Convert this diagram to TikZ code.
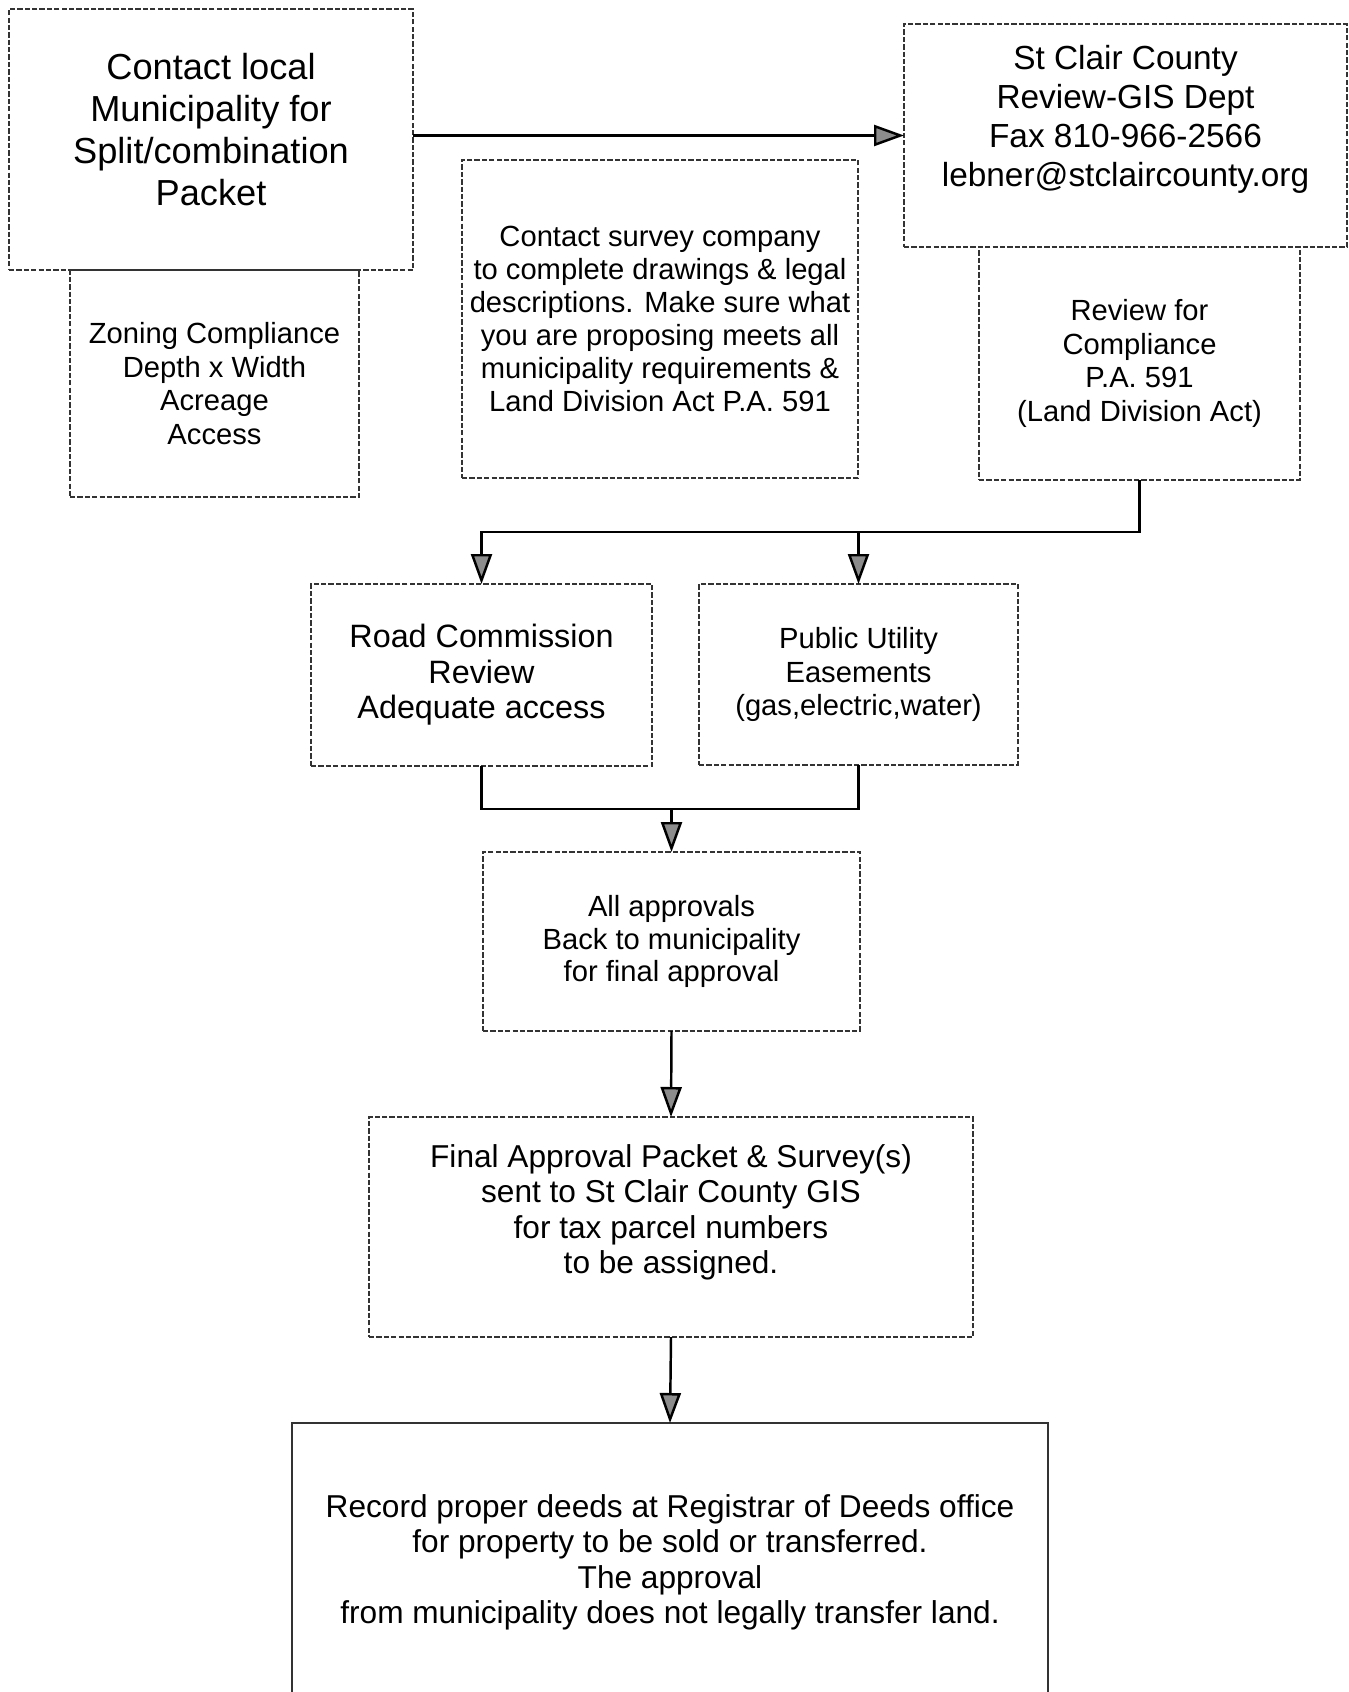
\documentclass[tikz,border=0pt]{standalone}
\usepackage{fontspec}
\setmainfont{Liberation Sans}
\usetikzlibrary{arrows.meta}

\begin{document}
\begin{tikzpicture}[
  box/.style={draw=black!80, dash pattern=on 1.5pt off 0.6pt, line width=0.4pt, align=center, inner sep=0pt, outer sep=0pt},
  conn/.style={line width=0.7pt},
  arr/.style={conn, -{Triangle[length=0.3cm,width=0.21cm,fill=black!45]}},
]
\useasboundingbox (0,0) rectangle (13.48,-16.92);

% top row
\node[box, minimum width=4.04cm, minimum height=2.61cm, font={\fontsize{10.3}{11.9}\selectfont}] (contact) at (2.11,-1.395)
  {Contact local\\Municipality for\\Split/combination\\Packet\\[-0.22cm]~};
\node[box, minimum width=2.89cm, minimum height=2.27cm, font={\fontsize{8.3}{9.5}\selectfont}] (zoning) at (2.145,-3.835)
  {Zoning Compliance\\Depth x Width\\Acreage\\Access};
\node[box, minimum width=3.96cm, minimum height=3.18cm, font={\fontsize{8.3}{9.4}\selectfont}] (survey) at (6.60,-3.19)
  {Contact survey company\\to complete drawings \& legal\\descriptions. Make sure what\\you are proposing meets all\\municipality requirements \&\\Land Division Act P.A. 591};
\node[box, minimum width=4.43cm, minimum height=2.23cm, font={\fontsize{9.5}{11.1}\selectfont}] (gis) at (11.255,-1.355)
  {St Clair County\\Review-GIS Dept\\Fax 810-966-2566\\lebner@stclaircounty.org\\~};
\node[box, minimum width=3.21cm, minimum height=2.33cm, font={\fontsize{8.3}{9.5}\selectfont}] (review) at (11.395,-3.635)
  {Review for\\Compliance\\P.A. 591\\(Land Division Act)};

% middle
\node[box, minimum width=3.41cm, minimum height=1.82cm, font={\fontsize{9.2}{10.1}\selectfont}] (road) at (4.815,-6.75)
  {Road Commission\\Review\\Adequate access};
\node[box, minimum width=3.19cm, minimum height=1.81cm, font={\fontsize{8.3}{9.5}\selectfont}] (utility) at (8.585,-6.745)
  {Public Utility\\Easements\\(gas,electric,water)};
\node[box, minimum width=3.77cm, minimum height=1.79cm, font={\fontsize{8.3}{9.2}\selectfont}] (approvals) at (6.715,-9.415)
  {All approvals\\Back to municipality\\for final approval};
\node[box, minimum width=6.04cm, minimum height=2.20cm, font={\fontsize{9}{10.1}\selectfont}] (final) at (6.71,-12.27)
  {Final Approval Packet \& Survey(s)\\sent to St Clair County GIS\\for tax parcel numbers\\to be assigned.\\~};
\node[box, solid, minimum width=7.56cm, minimum height=2.79cm, font={\fontsize{9}{10.1}\selectfont}] (record) at (6.70,-15.625)
  {Record proper deeds at Registrar of Deeds office\\for property to be sold or transferred.\\The approval\\from municipality does not legally transfer land.};

% connectors
\coordinate (fork) at (11.395,-5.32);
\coordinate (merge) at (6.715,-8.09);
\draw[arr] (gis.west -| contact.east) -- (gis.west);
\draw[arr] (review.south) -- (fork) -| (road.north);
\draw[arr] (fork -| utility.north) -- (utility.north);
\draw[conn] (road.south) |- (utility.south |- merge) -- (utility.south);
\draw[arr] (merge) -- (approvals.north);
\draw[arr] (approvals.south) -- (final.north);
\draw[arr] (final.south) -- (record.north);
\end{tikzpicture}
\end{document}
